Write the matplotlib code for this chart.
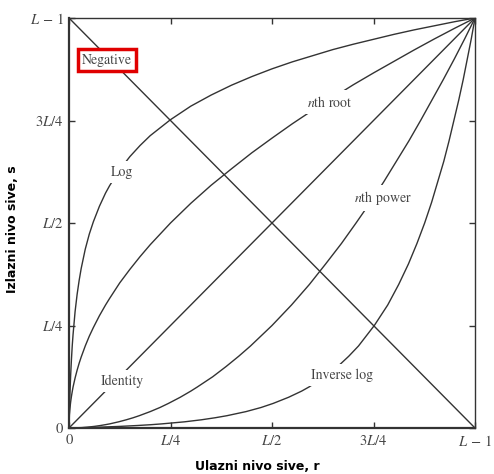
import matplotlib.pyplot as plt

plt.rcParams['mathtext.fontset'] = 'stix'
plt.rcParams['font.family'] = ['STIXGeneral', 'DejaVu Serif']

# ulazni nivoi (normirano, L-1 = 1)
r_vals = [0, 0.001, 0.002, 0.004, 0.006, 0.008, 0.01, 0.015, 0.02, 0.025,
          0.03, 0.04, 0.05, 0.06, 0.075, 0.09, 0.1, 0.125, 0.15, 0.175,
          0.2, 0.25, 0.3, 0.35, 0.4, 0.45, 0.5, 0.55, 0.6, 0.65,
          0.7, 0.75, 0.8, 0.85, 0.9, 0.95, 1.0]
# Log krivulja ocitana sa slike
log_vals = [0, 0.041, 0.074, 0.127, 0.167, 0.201, 0.228, 0.284, 0.326, 0.360,
            0.389, 0.436, 0.473, 0.503, 0.541, 0.573, 0.591, 0.630, 0.662, 0.689,
            0.713, 0.752, 0.785, 0.812, 0.836, 0.857, 0.876, 0.893, 0.908, 0.923,
            0.936, 0.948, 0.960, 0.971, 0.981, 0.991, 1.0]
# nth root krivulja
root_vals = [0, 0.032, 0.045, 0.063, 0.077, 0.089, 0.1, 0.122, 0.141, 0.158,
             0.173, 0.2, 0.224, 0.245, 0.274, 0.3, 0.316, 0.354, 0.387, 0.418,
             0.447, 0.5, 0.548, 0.592, 0.632, 0.671, 0.707, 0.742, 0.775, 0.806,
             0.837, 0.866, 0.894, 0.922, 0.949, 0.975, 1.0]

tick_pos = [0, 0.25, 0.5, 0.75, 1.0]
tick_labels = ['0', '$L/4$', '$L/2$', '$3L/4$', r'$L\,-\,1$']

line_col = '#333333'
text_col = '#444444'

fig = plt.figure(figsize=(4.94, 4.74), dpi=100)
ax = fig.add_axes([69 / 494, 46 / 474, 406 / 494, 410 / 474])

kw = dict(color=line_col, lw=1.0, solid_joinstyle='round')
ax.plot([0, 1], [1, 0], **kw)             # Negative
ax.plot([0, 1], [0, 1], **kw)             # Identity
ax.plot(r_vals, log_vals, **kw)           # Log
ax.plot(log_vals, r_vals, **kw)           # Inverse log
ax.plot(r_vals, root_vals, **kw)          # nth root
ax.plot(root_vals, r_vals, **kw)          # nth power

ax.set_xlim(0, 1)
ax.set_ylim(0, 1)
ax.set_xticks(tick_pos)
ax.set_xticklabels(tick_labels)
ax.set_yticks(tick_pos)
ax.set_yticklabels(tick_labels)
ax.tick_params(direction='in', length=4, width=1, colors=line_col,
               labelcolor=text_col, labelsize=10.5, top=True, right=True, pad=4)

for side in ['left', 'bottom']:
    ax.spines[side].set_linewidth(1.6)
for side in ['top', 'right']:
    ax.spines[side].set_linewidth(1.0)
for sp in ax.spines.values():
    sp.set_color(line_col)

white = dict(facecolor='white', edgecolor='none', pad=3)
lab = dict(fontsize=10, color=text_col, ha='center', va='center', zorder=5)
ax.text(0.131, 0.624, 'Log', bbox=white, **lab)
ax.text(0.643, 0.795, '$n$th root', bbox=white, **lab)
ax.text(0.131, 0.115, 'Identity', bbox=white, **lab)
ax.text(0.773, 0.561, '$n$th power', bbox=white, **lab)
ax.text(0.672, 0.129, 'Inverse log', bbox=white, **lab)
ax.text(0.094, 0.898, 'Negative',
        bbox=dict(facecolor='white', edgecolor='#e00000', lw=2.5, pad=3), **lab)

fig.text(257 / 494, 1 - 466 / 474, 'Ulazni nivo sive, r', family='DejaVu Sans',
         fontweight='bold', fontsize=9, ha='center', va='center')
fig.text(13 / 494, 1 - 229 / 474, 'Izlazni nivo sive, s', family='DejaVu Sans',
         fontweight='bold', fontsize=9, ha='center', va='center', rotation=90)

fig.savefig('out.png', dpi=100)
